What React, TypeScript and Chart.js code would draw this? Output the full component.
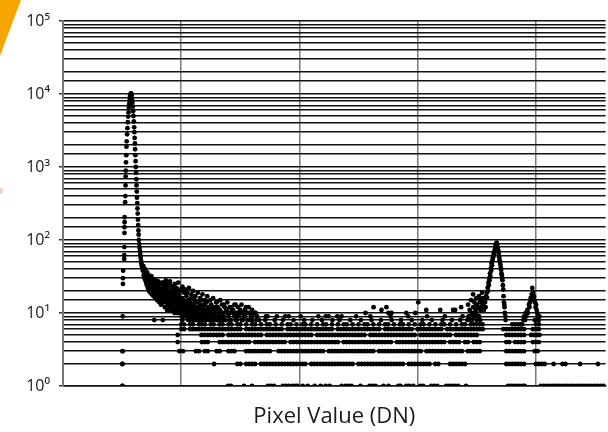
import React, { useEffect, useRef } from 'react';
import { Chart, registerables } from 'chart.js';

Chart.register(...registerables);

// ---- axis / labels ----
const xAxisTitle = 'Pixel Value (DN)';
const xMin = 0;
const xMax = 4590;
const xGridValues = [1000, 2000, 3000, 4000];
const yMin = 1;
const yMax = 100000;
const superscriptDigits = ['⁰', '¹', '²', '³', '⁴', '⁵', '⁶'];

// ---- data: [DN, count] pairs for the peaks and noisy parts ----
const leftPeak: number[][] = [
  [503, 1], [503, 2], [505, 3], [505, 9], [507, 25], [507, 30], [509, 38], [518, 55], [518, 62], [519, 80],
  [520, 125], [520, 150], [521, 175], [521, 205], [526, 330], [527, 400], [529, 560], [530, 740], [531, 890],
  [533, 1160], [535, 1450], [537, 1900], [539, 2250], [542, 2800], [545, 3400], [548, 4100], [551, 4900],
  [554, 5600], [557, 6500], [560, 7300], [563, 8200], [566, 9000], [569, 9600], [572, 10000], [575, 10200],
  [578, 10000], [581, 9500], [584, 8600], [587, 7600], [590, 6700], [593, 5800], [596, 5000], [599, 4200],
  [602, 3500], [604, 3000], [606, 2500], [608, 2100], [610, 1750], [612, 1450], [614, 1200], [616, 1000],
  [618, 830], [620, 680], [622, 560], [624, 460], [626, 380], [628, 320], [630, 270], [632, 230], [634, 190],
  [636, 160], [638, 135], [640, 118], [642, 100], [645, 88], [648, 78], [651, 70], [654, 63], [657, 57],
  [660, 52], [663, 48], [666, 45], [670, 42],
];

const tail: number[][] = [
  [675, 38], [680, 44], [683, 33], [688, 36], [690, 30], [694, 40], [697, 28], [700, 34], [703, 26], [706, 31],
  [710, 24], [712, 36], [715, 29], [718, 22], [721, 27], [724, 33], [727, 20], [730, 25], [733, 30], [736, 23],
  [739, 19], [742, 27], [745, 21], [748, 32], [751, 18], [754, 24], [757, 26], [760, 20], [763, 29], [766, 17],
  [769, 22], [772, 8], [775, 25], [778, 19], [781, 16], [784, 23], [787, 28], [790, 18], [793, 21], [796, 15],
  [799, 24], [802, 19], [805, 27], [808, 17], [811, 22], [814, 14], [817, 20], [820, 25], [823, 16], [826, 18],
  [829, 13], [832, 21], [835, 26], [838, 15], [841, 19], [844, 8], [847, 17], [850, 23], [853, 14], [856, 20],
  [859, 16], [862, 12], [865, 22], [868, 18], [871, 14], [874, 25], [877, 15], [880, 11], [883, 19], [886, 17],
  [889, 13], [892, 21], [895, 16], [898, 12], [901, 18], [904, 14], [907, 24], [910, 11], [913, 16], [916, 20],
  [919, 13], [922, 15], [925, 11], [928, 18], [931, 14], [934, 22], [937, 12], [940, 16], [943, 10], [946, 19],
  [949, 13], [952, 15], [955, 11], [958, 17], [961, 12], [964, 20], [967, 10], [970, 14], [973, 16], [976, 11],
  [979, 13], [982, 18], [985, 10], [988, 15], [991, 12], [994, 21], [997, 11], [1000, 14], [1004, 9], [1008, 16],
  [1012, 12], [1016, 10], [1020, 13], [1024, 19], [1028, 11], [1032, 9], [1036, 14], [1040, 12], [1044, 17],
  [1048, 10], [1052, 13], [1056, 9], [1060, 15], [1064, 11], [1068, 12], [1072, 8], [1076, 14], [1080, 10],
  [1084, 16], [1088, 9], [1092, 12], [1096, 11], [1100, 8], [1104, 13], [1108, 10], [1112, 15], [1116, 9],
  [1120, 11], [1124, 12], [1128, 8], [1132, 14], [1136, 10], [1140, 9], [1144, 12], [1148, 11], [1152, 8],
  [1156, 13], [1160, 10], [1165, 9], [1170, 15], [1175, 11], [1180, 8], [1185, 12], [1190, 10], [1195, 9],
  [1200, 13], [1205, 11], [1210, 8], [1215, 14], [1220, 10], [1225, 9], [1230, 12], [1236, 8], [1242, 11],
  [1248, 10], [1254, 13], [1260, 9], [1266, 12], [1272, 8], [1278, 10], [1284, 11], [1290, 9], [1296, 14],
  [1302, 8], [1308, 12], [1314, 10], [1320, 9], [1328, 11], [1336, 8], [1344, 13], [1352, 10], [1360, 9],
  [1368, 12], [1376, 8], [1384, 11], [1392, 10], [1400, 9], [1410, 12], [1420, 8], [1430, 11], [1440, 10],
  [1450, 9], [1460, 13], [1470, 8], [1480, 10], [1490, 9], [1500, 11], [1512, 8], [1524, 10], [1536, 9],
  [1548, 12], [1560, 8], [1575, 10], [1590, 9], [1605, 8], [1620, 10], [1640, 9], [1660, 8],
];

const tailUpper: number[][] = [
  [850, 26], [870, 28], [890, 24], [905, 27], [925, 23], [945, 25], [960, 22], [975, 26], [995, 20], [1010, 23],
  [1030, 21], [1050, 19], [1065, 22], [1085, 18], [1100, 20], [1120, 17], [1140, 19], [1160, 16], [1180, 18],
  [1200, 15], [1220, 17], [1245, 15], [1270, 16], [1300, 14], [1330, 15], [1360, 13], [1390, 14], [1420, 12],
  [1450, 13], [1480, 12], [1510, 13], [1540, 11], [1570, 12], [1600, 11], [1630, 10], [860, 18], [880, 15],
  [900, 20], [920, 17], [940, 14], [960, 15], [980, 17], [1000, 12], [1020, 15], [1040, 14], [1060, 11],
  [1080, 13], [1110, 12], [1130, 11], [1150, 14], [1170, 12], [1190, 13], [1210, 11], [1240, 12], [1260, 11],
  [1290, 12], [1320, 11], [1350, 10], [1380, 11], [1410, 10], [1440, 11], [1470, 10], [1500, 10], [1530, 9],
  [1560, 10], [1590, 10],
];

const flatOutliers: number[][] = [
  [1640, 9], [1716, 9], [1809, 9], [1910, 9], [2222, 9], [2247, 9], [2357, 9], [2559, 10], [2627, 12],
  [2694, 11], [2736, 12], [2753, 10], [2778, 10], [2904, 10], [2980, 10], [3005, 14], [3073, 11], [3191, 11],
  [3300, 11], [3317, 11], [3368, 12], [3427, 13], [3452, 15], [3469, 18], [3494, 16],
];

const rightShoulder: number[][] = [
  [3430, 9], [3440, 11], [3450, 8], [3460, 10], [3470, 12], [3475, 9], [3480, 14], [3490, 11], [3495, 10],
  [3500, 13], [3505, 16], [3510, 12], [3515, 9], [3520, 17], [3525, 14], [3530, 11], [3535, 15], [3540, 12],
  [3545, 19], [3550, 13], [3555, 16], [3560, 11], [3565, 14],
];

const rightPeak: number[][] = [
  [3570, 14], [3575, 12], [3580, 17], [3585, 19], [3588, 16], [3592, 22], [3596, 20], [3599, 26], [3602, 24],
  [3605, 30], [3608, 28], [3612, 35], [3615, 32], [3619, 41], [3622, 38], [3626, 48], [3629, 45], [3633, 53],
  [3636, 57], [3640, 59], [3643, 63], [3646, 66], [3650, 70], [3654, 75], [3657, 80], [3661, 84], [3664, 88],
  [3667, 92], [3670, 90], [3674, 86], [3678, 78], [3682, 72], [3686, 65], [3690, 58], [3693, 53], [3696, 50],
  [3700, 46], [3703, 42], [3706, 39], [3709, 35], [3712, 33], [3715, 30], [3718, 28], [3721, 24], [3724, 21],
  [3727, 17], [3730, 14], [3733, 13], [3735, 12], [3738, 10], [3741, 9], [3744, 8],
];

const secondPeak: number[][] = [
  [3870, 7], [3885, 7], [3894, 8], [3900, 9], [3908, 8], [3914, 10], [3920, 9], [3928, 11], [3932, 10],
  [3942, 13], [3946, 12], [3950, 14], [3956, 16], [3960, 15], [3965, 18], [3970, 22], [3975, 19], [3978, 17],
  [3984, 17], [3988, 15], [3992, 14], [3998, 12], [4002, 13], [4006, 11], [4012, 10], [4018, 9], [4024, 8],
  [4030, 9],
];

// ---- data: DN positions of bins holding exactly 1..9 counts ----
const count1DN = [
  503, 1396, 1421, 1531, 1598, 1733, 1758, 1784, 1860, 1885, 1910, 1944, 1969, 1986, 2028, 2070, 2129, 2180,
  2222, 2256, 2357, 2391, 2416, 2441, 2517, 2593, 2618, 2644, 2711, 2753, 2837, 2854, 2904, 2929, 2963, 3022,
  3047, 3115, 3140, 3166, 3242, 3267, 3292, 3318, 3343, 3410, 3765, 3790, 3815, 3840, 3865, 3890, 3905, 4041,
  4067, 4092, 4117, 4143, 4168, 4193, 4219, 4244, 4269, 4295, 4320, 4345, 4370, 4396, 4421, 4446, 4472, 4497,
  4522, 4548, 4573,
];

const count2DN = [
  503, 1278, 1475, 1500, 1550, 1575, 1600, 1625, 1675, 1700, 1725, 1750, 1775, 1800, 1825, 1850, 1875, 1900,
  1925, 1950, 1975, 2000, 2025, 2050, 2100, 2125, 2150, 2175, 2200, 2225, 2250, 2275, 2300, 2325, 2350, 2375,
  2400, 2425, 2450, 2500, 2525, 2550, 2575, 2600, 2625, 2650, 2675, 2700, 2725, 2750, 2775, 2800, 2825, 2850,
  2875, 2925, 2950, 2975, 3000, 3025, 3050, 3075, 3100, 3150, 3175, 3275, 3300, 3325, 3350, 3375, 3400, 3750,
  3775, 3800, 3825, 3850, 3875, 3900, 4000, 4025, 4050, 4075, 4150, 4225, 4250, 4375, 4525,
];

const count3DN = [
  503, 985, 1015, 1125, 1150, 1200, 1225, 1300, 1325, 1400, 1425, 1450, 1550, 1575, 1600, 1625, 1650, 1675,
  1700, 1725, 1750, 1825, 1850, 1875, 1900, 1925, 1950, 1975, 2000, 2025, 2050, 2075, 2100, 2125, 2150, 2175,
  2200, 2250, 2275, 2300, 2325, 2350, 2375, 2400, 2425, 2450, 2475, 2500, 2525, 2550, 2575, 2600, 2625, 2675,
  2700, 2725, 2750, 2775, 2800, 2825, 2850, 2875, 2900, 2925, 2950, 2975, 3000, 3025, 3075, 3100, 3125, 3150,
  3175, 3200, 3225, 3250, 3275, 3300, 3325, 3350, 3375, 3425, 3450, 3475, 3500, 3525, 3750, 3775, 3800, 3825,
  3850, 3875, 3900, 3990, 4015,
];

const count4DN = [
  970, 1175, 1200, 1225, 1325, 1350, 1375, 1400, 1425, 1450, 1475, 1500, 1525, 1550, 1575, 1625, 1650, 1675,
  1700, 1725, 1750, 1775, 1800, 1825, 1850, 1875, 1925, 1950, 1975, 2000, 2025, 2050, 2075, 2100, 2125, 2150,
  2175, 2200, 2225, 2250, 2275, 2300, 2325, 2375, 2400, 2425, 2450, 2475, 2500, 2525, 2550, 2575, 2600, 2625,
  2650, 2675, 2700, 2725, 2750, 2775, 2825, 2850, 2875, 2900, 2925, 2950, 2975, 3000, 3025, 3050, 3075, 3100,
  3125, 3150, 3175, 3200, 3225, 3275, 3300, 3325, 3350, 3400, 3425, 3475, 3500, 3525, 3750, 3775, 3825, 3850,
  3875, 3900, 3975, 4000, 4025,
];

const count5DN = [
  970, 1170, 1195, 1225, 1250, 1275, 1300, 1325, 1350, 1400, 1425, 1450, 1475, 1500, 1525, 1550, 1575, 1600,
  1625, 1650, 1675, 1725, 1750, 1775, 1800, 1825, 1850, 1875, 1900, 1925, 1950, 1975, 2000, 2025, 2050, 2075,
  2100, 2150, 2175, 2200, 2225, 2250, 2275, 2300, 2325, 2350, 2375, 2400, 2425, 2450, 2475, 2500, 2525, 2550,
  2600, 2625, 2650, 2675, 2700, 2725, 2750, 2775, 2800, 2825, 2850, 2875, 2900, 2925, 2950, 2975, 3025, 3050,
  3075, 3100, 3125, 3150, 3175, 3200, 3225, 3250, 3275, 3325, 3350, 3375, 3400, 3425, 3450, 3475, 3500, 3750,
  3775, 3800, 3825, 3850, 3875, 3900, 3960, 3985, 4010, 4030,
];

const count6DN = [
  1000, 1025, 1075, 1100, 1125, 1150, 1175, 1200, 1225, 1250, 1275, 1300, 1325, 1350, 1375, 1400, 1425, 1450,
  1475, 1500, 1550, 1575, 1600, 1625, 1650, 1675, 1700, 1725, 1750, 1775, 1800, 1825, 1850, 1900, 1925, 1950,
  1975, 2000, 2025, 2050, 2075, 2100, 2125, 2150, 2175, 2200, 2225, 2250, 2275, 2325, 2350, 2375, 2400, 2425,
  2450, 2475, 2500, 2525, 2550, 2575, 2600, 2625, 2650, 2675, 2725, 2750, 2775, 2800, 2825, 2850, 2875, 2900,
  2925, 2950, 3000, 3025, 3050, 3075, 3100, 3125, 3150, 3175, 3200, 3250, 3275, 3300, 3325, 3350, 3375, 3400,
  3425, 3450, 3475, 3500, 3525, 3550, 3725, 3750, 3775, 3800, 3825, 3850, 3875, 3900, 3975, 4000, 4025,
];

const count7DN = [
  1000, 1025, 1075, 1100, 1150, 1175, 1200, 1250, 1275, 1325, 1350, 1400, 1425, 1475, 1500, 1550, 1600, 1625,
  1675, 1725, 1750, 1800, 1850, 1900, 1925, 1975, 2025, 2050, 2100, 2150, 2200, 2225, 2275, 2325, 2375, 2400,
  2450, 2500, 2550, 2575, 2625, 2675, 2725, 2750, 2800, 2850, 2875, 2925, 2975, 3025, 3050, 3100, 3150, 3200,
  3225, 3275, 3325, 3375, 3400, 3450, 3475, 3500, 3525, 3550, 3800, 3825, 3850, 4000, 4025,
];

const count8DN = [
  1010, 1060, 1110, 1160, 1210, 1260, 1310, 1360, 1410, 1460, 1520, 1580, 1640, 1710, 1790, 1860, 1950, 2040,
  2110, 2190, 2280, 2340, 2430, 2520, 2610, 2690, 2780, 2860, 2950, 3040, 3120, 3210, 3290, 3360, 3420, 3460,
  3500, 3530, 3990, 4020,
];

const count9DN = [
  1040, 1130, 1240, 1350, 1470, 1600, 1730, 1880, 2010, 2160, 2320, 2480, 2600, 2770, 2920, 3080, 3230, 3380,
  3440, 3480, 3520,
];

const countRows = [count1DN, count2DN, count3DN, count4DN, count5DN, count6DN, count7DN, count8DN, count9DN];

function isDecade(v: number) {
  const l = Math.log10(v);
  return Math.abs(l - Math.round(l)) < 1e-9;
}

const decorPlugin = {
  id: 'decor',
  beforeDraw(chart: any) {
    const ctx = chart.ctx;
    ctx.save();
    ctx.fillStyle = '#ffffff';
    ctx.fillRect(0, 0, chart.width, chart.height);
    ctx.fillStyle = '#F6A500';
    ctx.beginPath();
    ctx.moveTo(0, 0);
    ctx.lineTo(21, 0);
    ctx.lineTo(0, 56);
    ctx.closePath();
    ctx.fill();
    ctx.fillStyle = 'rgba(214,150,130,0.45)';
    ctx.beginPath();
    ctx.arc(0, 191, 3, 0, Math.PI * 2);
    ctx.fill();
    ctx.restore();
  },
};

export default function App() {
  const ref = useRef<HTMLCanvasElement | null>(null);

  useEffect(() => {
    if (!ref.current) return;
    const points: { x: number; y: number }[] = [];
    countRows.forEach((row, i) => row.forEach((x) => points.push({ x, y: i + 1 })));
    [tail, tailUpper, flatOutliers, rightShoulder, secondPeak, rightPeak, leftPeak].forEach((set) =>
      set.forEach(([x, y]) => points.push({ x, y }))
    );

    const chart = new Chart(ref.current, {
      type: 'scatter',
      data: {
        datasets: [
          {
            data: points,
            backgroundColor: '#000000',
            borderWidth: 0,
            pointRadius: 2.4,
            pointHoverRadius: 2.4,
          },
        ],
      },
      plugins: [decorPlugin],
      options: {
        responsive: false,
        animation: false,
        events: [],
        layout: { padding: { top: 21, left: 0, right: 0, bottom: 0 } },
        plugins: { legend: { display: false }, tooltip: { enabled: false } },
        scales: {
          x: {
            type: 'linear',
            min: xMin,
            max: xMax,
            afterBuildTicks(scale: any) {
              scale.ticks = xGridValues.map((value) => ({ value }));
            },
            afterFit(scale: any) {
              scale.height = 46;
            },
            ticks: { display: false },
            grid: {
              drawTicks: false,
              lineWidth: 1.5,
              color: '#7a7a7a',
            },
            border: { display: true, color: '#111111', width: 1.5 },
            title: {
              display: true,
              text: xAxisTitle,
              color: '#1a1a1a',
              font: { family: '"Open Sans", sans-serif', size: 22 },
              padding: { top: 0, bottom: 2 },
            },
          },
          y: {
            type: 'logarithmic',
            min: yMin,
            max: yMax,
            afterFit(scale: any) {
              scale.width = 63;
            },
            ticks: {
              autoSkip: false,
              padding: 9,
              color: '#1a1a1a',
              font: { family: '"Open Sans", "DejaVu Sans", sans-serif', size: 16 },
              callback: (v: any) => {
                const n = Number(v);
                if (!isDecade(n)) return '';
                return '10' + superscriptDigits[Math.round(Math.log10(n))];
              },
            },
            grid: {
              color: '#111111',
              lineWidth: 1.5,
              tickLength: 4,
              tickColor: (ctx: any) => (ctx.tick && isDecade(ctx.tick.value) ? '#333333' : 'rgba(0,0,0,0)'),
            },
            border: { display: true, color: '#777777', width: 2 },
          },
        },
      },
    });
    return () => chart.destroy();
  }, []);

  return (
    <div style={{ position: 'fixed', left: 0, top: 0, width: 608, height: 432, background: '#fff' }}>
      <canvas ref={ref} width={608} height={432} style={{ display: 'block' }} />
    </div>
  );
}
